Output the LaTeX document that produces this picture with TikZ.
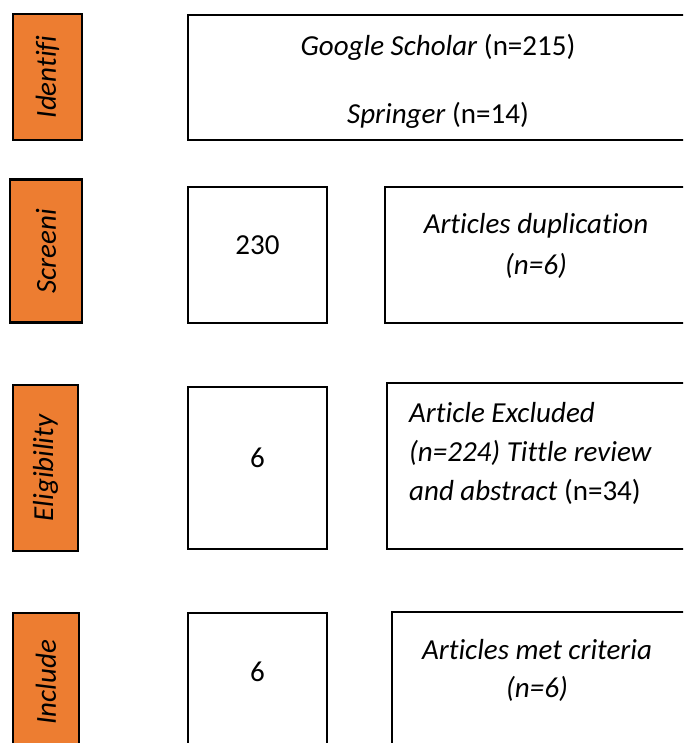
\documentclass[tikz,border=0pt]{standalone}
\usepackage{fontspec}
\setmainfont{Carlito}[Ligatures={NoCommon}]
\usepackage{xcolor}
\usetikzlibrary{positioning}
\definecolor{stageorange}{HTML}{ED7D31}

\begin{document}
\begin{tikzpicture}[
    x=1pt, y=-1pt,
    every node/.style={font=\fontsize{29}{39}\selectfont},
    stage/.style={draw, line width=2.5pt, fill=stageorange, rotate=90,
      inner sep=0pt, font=\fontsize{29}{39}\selectfont\itshape},
    box/.style={draw, line width=2.5pt, fill=white, inner sep=0pt},
    txt/.style={inner sep=0pt, align=center}
  ]

  \path[use as bounding box, clip] (0,0) rectangle (683,743);

  % Stage labels
  \node[stage, minimum width=126, minimum height=69] (ident) at (47.5,77) {Identifi};
  \node[stage, minimum width=143, minimum height=72] (screen) at (46,251) {Screeni};
  \node[stage, minimum width=166, minimum height=65] (elig) at (45.5,468) {Eligibility};
  \node[stage, minimum width=138, minimum height=66] (incl) at (46,682) {Include};

  % Boxes
  \node[box, minimum width=500, minimum height=125] (search) at (438,77.5) {};
  \node[box, minimum width=139, minimum height=136] (screened) at (257.5,255) {};
  \node[box, minimum width=310, minimum height=136] (dupl) at (540,255) {};
  \node[box, minimum width=139, minimum height=162] (eligible) at (257.5,468) {};
  \node[box, minimum width=310, minimum height=166] (excl) at (542,466) {};
  \node[box, minimum width=139, minimum height=170] (included) at (257.5,698) {};
  \node[box, minimum width=310, minimum height=170] (met) at (547,697) {};

  % Texts
  \node[txt] (search-g) at (438,47) {\textit{Google Scholar} (n=215)};
  \node[txt] (search-s) at (438,115) {\textit{Springer} (n=14)};
  \node[txt] (screened-n) at (257.5,245) {230};
  \node[txt, font=\fontsize{29}{41}\selectfont\itshape] (dupl-t) at (536,246)
    {Articles duplication\\(n=6)};
  \node[txt] (eligible-n) at (257.5,458) {6};
  \node[txt, align=left, anchor=west] (excl-t) at (409,453)
    {\textit{Article Excluded}\\\textit{(n=224) Tittle review}\\\textit{and abstract} (n=34)};
  \node[txt] (included-n) at (257.5,672) {6};
  \node[txt, font=\fontsize{29}{38}\selectfont\itshape] (met-t) at (537,670)
    {Articles met criteria\\(n=6)};

\end{tikzpicture}
\end{document}
